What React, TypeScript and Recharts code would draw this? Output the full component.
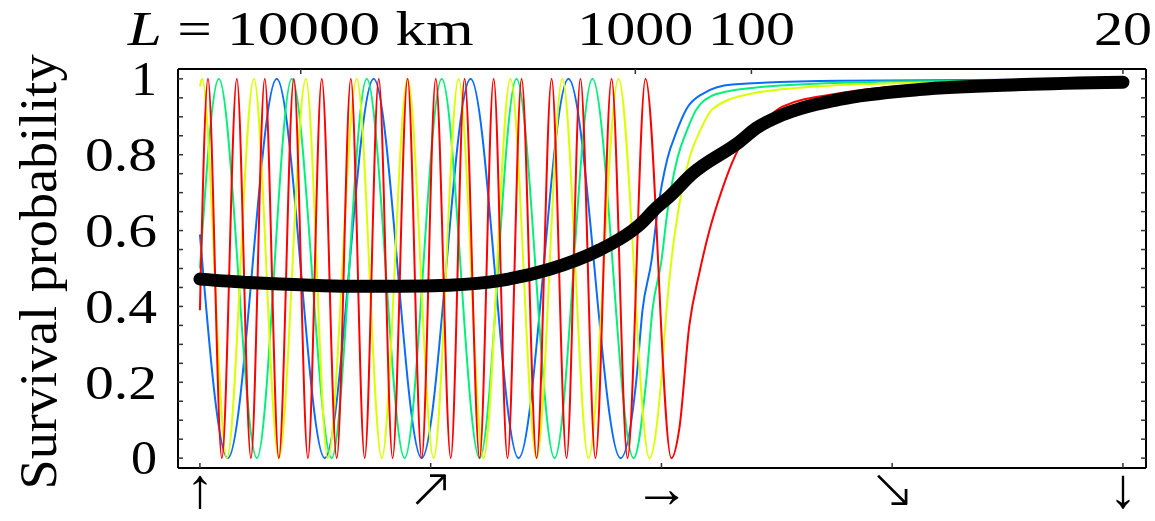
import React from 'react';
import { LineChart, Line, XAxis, YAxis } from 'recharts';

type Pt = [number, number];

// x runs 0..4 between the arrow ticks, y is survival probability
const redPts: Pt[] = [
  [0, 0.39], [0.035, 1], [0.095, 0], [0.16, 1], [0.221, 0], [0.281, 1], [0.342, 0], [0.407, 1],
  [0.468, 0], [0.528, 1], [0.593, 0], [0.654, 1], [0.714, 0], [0.775, 1], [0.835, 0], [0.9, 1],
  [0.961, 0], [1.022, 1], [1.087, 0], [1.147, 1], [1.212, 0], [1.273, 1], [1.333, 0], [1.394, 1],
  [1.459, 0], [1.524, 1], [1.589, 0], [1.649, 1], [1.714, 0], [1.784, 1], [1.853, 0], [1.931, 1],
  [2.043, 0], [2.078, 0.08], [2.121, 0.35], [2.165, 0.49], [2.208, 0.6], [2.264, 0.71], [2.307, 0.78],
  [2.338, 0.82], [2.437, 0.885], [2.524, 0.927], [2.771, 0.962], [3.117, 0.984], [3.567, 0.992], [4, 0.996],
];

const yellowPts: Pt[] = [
  [0, 0.98], [0.009, 1], [0.117, 0], [0.234, 1], [0.342, 0], [0.459, 1], [0.554, 0], [0.68, 1],
  [0.788, 0], [0.9, 1], [1.013, 0], [1.121, 1], [1.229, 0], [1.346, 1], [1.459, 0], [1.571, 1],
  [1.684, 0], [1.814, 1], [1.948, 0], [2.0, 0.21], [2.022, 0.39], [2.043, 0.52], [2.078, 0.67],
  [2.121, 0.79], [2.165, 0.86], [2.221, 0.92], [2.381, 0.96], [2.671, 0.98], [3.117, 0.99], [4, 0.995],
];

const greenPts: Pt[] = [
  [0, 0.5], [0.082, 1], [0.247, 0], [0.398, 1], [0.571, 0], [0.723, 1], [0.887, 0], [1.048, 1],
  [1.212, 0], [1.372, 1], [1.537, 0], [1.701, 1], [1.879, 0], [1.935, 0.21], [1.961, 0.39], [2.0, 0.52],
  [2.026, 0.65], [2.069, 0.79], [2.108, 0.86], [2.152, 0.92], [2.238, 0.96], [2.455, 0.98], [3.03, 0.993],
  [4, 0.997],
];

const bluePts: Pt[] = [
  [0, 0.59], [0.121, 0], [0.333, 1], [0.541, 0], [0.753, 1], [0.961, 0], [1.173, 1], [1.381, 0],
  [1.597, 1], [1.823, 0], [1.892, 0.21], [1.918, 0.39], [1.957, 0.52], [1.983, 0.65], [2.026, 0.79],
  [2.065, 0.86], [2.108, 0.92], [2.177, 0.96], [2.307, 0.985], [2.771, 0.995], [4, 0.999],
];

const averagePts: Pt[] = [
  [0, 0.472], [0.216, 0.463], [0.433, 0.457], [0.649, 0.453], [0.866, 0.453], [1.082, 0.456],
  [1.299, 0.468], [1.515, 0.498], [1.732, 0.549], [1.874, 0.6], [1.905, 0.615], [1.978, 0.66],
  [2.035, 0.69], [2.134, 0.75], [2.338, 0.834], [2.411, 0.87], [2.524, 0.905], [2.771, 0.946],
  [3.117, 0.972], [3.567, 0.985], [4, 0.991],
];

const bottomTicks = [0, 1, 2, 3, 4];
const bottomArrows = ['↑', '↗', '→', '↘', '↓'];
const topTicks = [0.437, 1.887, 2.39, 4];
const topLabels = ['10000', '1000', '100', '20'];
const yTicks = [0, 0.05, 0.1, 0.15, 0.2, 0.25, 0.3, 0.35, 0.4, 0.45, 0.5, 0.55, 0.6, 0.65, 0.7, 0.75, 0.8, 0.85, 0.9, 0.95, 1];
const yLabelTicks = [0, 0.2, 0.4, 0.6, 0.8, 1];
const yLabels = ['0', '0.2', '0.4', '0.6', '0.8', '1'];

const toRows = (pts: Pt[]) => pts.map(([x, y]) => ({ x, y }));

const FONT = "'Liberation Serif', 'DejaVu Serif', serif";
const ARROW_FONT = "'Liberation Serif', 'DejaVu Sans', sans-serif";
const TICK_COLOR = '#333';

const LeftTick = (props: any) => {
  const { x, y, payload } = props;
  const i = yLabelTicks.findIndex((t) => Math.abs(t - payload.value) < 1e-9);
  const txt = i >= 0 ? yLabels[i] : null;
  return (
    <g>
      <line x1={x} y1={y} x2={x + 5} y2={y} stroke={TICK_COLOR} strokeWidth={1.5} />
      {txt && (
        <text x={x - 21} y={y} dy="0.34em" textAnchor="end" fontFamily={FONT} fontSize={48} fill="#000"
          textLength={txt.length > 1 ? 72 : 26} lengthAdjust="spacingAndGlyphs">
          {txt}
        </text>
      )}
    </g>
  );
};

const RightTick = (props: any) => {
  const { x, y } = props;
  return <line x1={x - 5} y1={y} x2={x} y2={y} stroke={TICK_COLOR} strokeWidth={1.5} />;
};

const BottomTick = (props: any) => {
  const { x, y, index } = props;
  return (
    <g>
      <line x1={x} y1={y - 5} x2={x} y2={y} stroke={TICK_COLOR} strokeWidth={1.5} />
      <text x={x} y={y + 39} textAnchor="middle" fontFamily={ARROW_FONT} fontWeight={200} fontSize={56} fill="#000">
        {bottomArrows[index]}
      </text>
    </g>
  );
};

const TopTick = (props: any) => {
  const { x, y, index } = props;
  const label = topLabels[index];
  return (
    <g>
      <line x1={x} y1={y} x2={x} y2={y + 5} stroke={TICK_COLOR} strokeWidth={1.5} />
      {index === 0 ? (
        <text x={x - 173} y={45} fontFamily={FONT} fontSize={48} fill="#000" textLength={346} lengthAdjust="spacingAndGlyphs">
          <tspan fontStyle="italic">L</tspan> = {label} km
        </text>
      ) : (
        <text x={x} y={45} textAnchor="middle" fontFamily={FONT} fontSize={48} fill="#000"
          textLength={label.length * 29} lengthAdjust="spacingAndGlyphs">
          {label}
        </text>
      )}
    </g>
  );
};

const YTitle = () => (
  <text x={56} y={272} transform="rotate(-90 56 272)" textAnchor="middle" fontFamily={FONT} fontSize={52}
    fill="#000" textLength={435} lengthAdjust="spacingAndGlyphs">
    Survival probability
  </text>
);

const X_DOMAIN: [number, number] = [-0.095, 4.1];
const Y_DOMAIN: [number, number] = [-0.026, 1.026];

export default function App() {
  return (
    <div style={{ position: 'absolute', left: 0, top: 0, background: '#fff' }}>
      <LineChart width={1155} height={521} margin={{ top: 0, right: 0, bottom: 0, left: 0 }}>
        <XAxis xAxisId="b" type="number" dataKey="x" domain={X_DOMAIN} ticks={bottomTicks} interval={0}
          allowDataOverflow height={53} tickSize={0} tickMargin={0} tickLine={false}
          axisLine={{ stroke: '#000', strokeWidth: 2 }} tick={<BottomTick />} />
        <XAxis xAxisId="t" orientation="top" type="number" dataKey="x" domain={X_DOMAIN} ticks={topTicks}
          interval={0} allowDataOverflow height={69} tickSize={0} tickMargin={0} tickLine={false}
          axisLine={{ stroke: '#000', strokeWidth: 2 }} tick={<TopTick />} />
        <YAxis yAxisId="l" type="number" domain={Y_DOMAIN} ticks={yTicks} interval={0} allowDataOverflow
          width={178} tickSize={0} tickMargin={0} tickLine={false} axisLine={{ stroke: '#000', strokeWidth: 2 }}
          tick={<LeftTick />} label={YTitle} />
        <YAxis yAxisId="r" orientation="right" type="number" domain={Y_DOMAIN} ticks={yTicks} interval={0}
          allowDataOverflow width={9} tickSize={0} tickMargin={0} tickLine={false}
          axisLine={{ stroke: '#000', strokeWidth: 2 }} tick={<RightTick />} />
        <Line xAxisId="b" yAxisId="l" data={toRows(bluePts)} dataKey="y" type="monotone" stroke="#0a6cff"
          strokeWidth={2} dot={false} isAnimationActive={false} />
        <Line xAxisId="b" yAxisId="l" data={toRows(greenPts)} dataKey="y" type="monotone" stroke="#00f07a"
          strokeWidth={2} dot={false} isAnimationActive={false} />
        <Line xAxisId="b" yAxisId="l" data={toRows(yellowPts)} dataKey="y" type="monotone" stroke="#dcff00"
          strokeWidth={2} dot={false} isAnimationActive={false} />
        <Line xAxisId="b" yAxisId="l" data={toRows(redPts)} dataKey="y" type="monotone" stroke="#ff0000"
          strokeWidth={2} dot={false} isAnimationActive={false} />
        <Line xAxisId="b" yAxisId="l" data={toRows(averagePts)} dataKey="y" type="monotone" stroke="#000"
          strokeWidth={13} strokeLinecap="round" strokeLinejoin="round" dot={false} isAnimationActive={false} />
      </LineChart>
    </div>
  );
}
